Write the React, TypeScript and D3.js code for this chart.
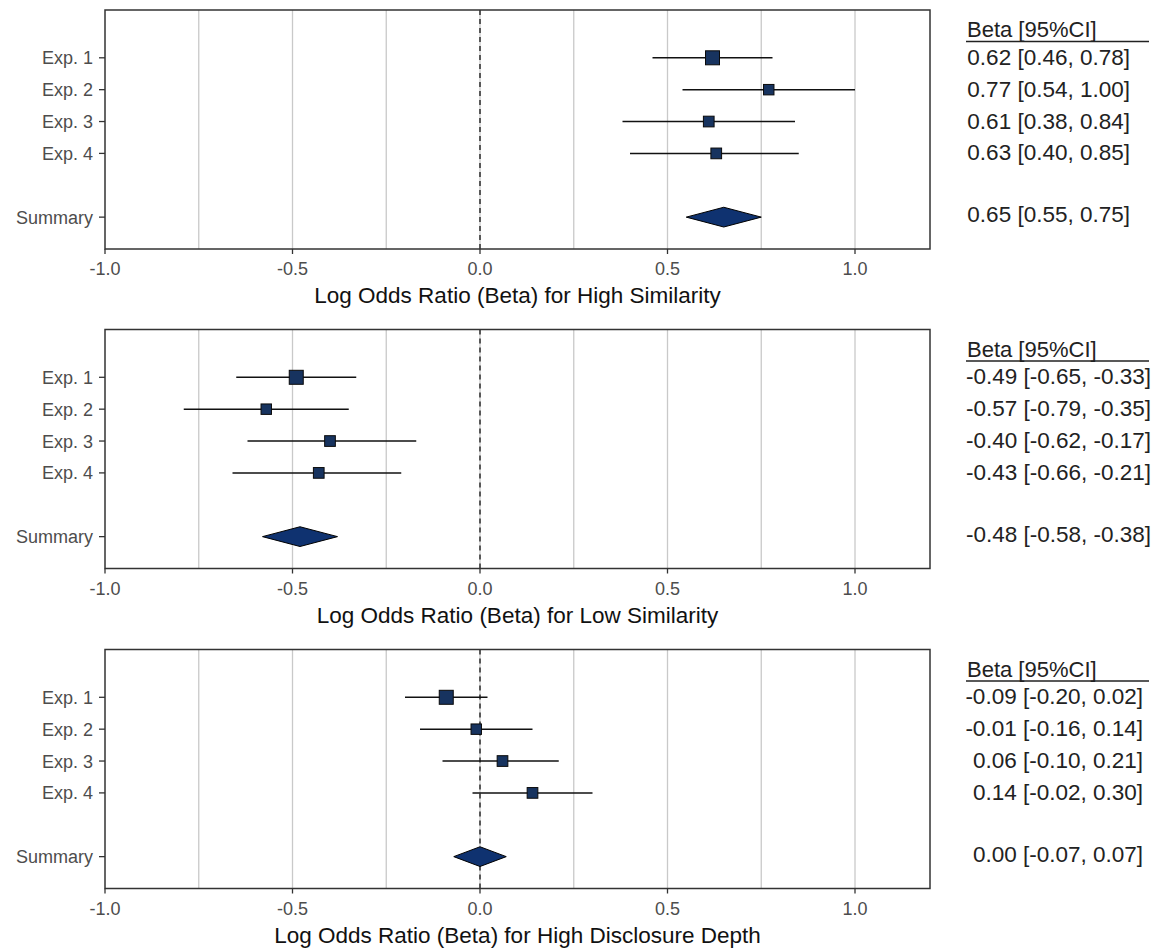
import React from "react";
import * as d3 from "d3";

const studies = ["Exp. 1", "Exp. 2", "Exp. 3", "Exp. 4"];
const summaryLabel = "Summary";
const rowPositions = [6, 5, 4, 3];
const summaryPosition = 1;
const xTickValues = [-1.0, -0.5, 0.0, 0.5, 1.0];
const gridValues = [-0.75, -0.5, -0.25, 0.0, 0.25, 0.5, 0.75, 1.0];
const headerText = "Beta [95%CI]";

const panelTitles = [
  "Log Odds Ratio (Beta) for High Similarity",
  "Log Odds Ratio (Beta) for Low Similarity",
  "Log Odds Ratio (Beta) for High Disclosure Depth",
];

const hsEst = [0.62, 0.77, 0.61, 0.63];
const hsLo = [0.46, 0.54, 0.38, 0.4];
const hsHi = [0.78, 1.0, 0.84, 0.85];
const hsSummary = [0.65, 0.55, 0.75];

const lsEst = [-0.49, -0.57, -0.4, -0.43];
const lsLo = [-0.65, -0.79, -0.62, -0.66];
const lsHi = [-0.33, -0.35, -0.17, -0.21];
const lsSummary = [-0.48, -0.58, -0.38];

const ddEst = [-0.09, -0.01, 0.06, 0.14];
const ddLo = [-0.2, -0.16, -0.1, -0.02];
const ddHi = [0.02, 0.14, 0.21, 0.3];
const ddSummary = [0.0, -0.07, 0.07];

const studyWeights = [0.36, 0.2, 0.21, 0.21];

const panels = [
  { title: panelTitles[0], est: hsEst, lo: hsLo, hi: hsHi, summary: hsSummary },
  { title: panelTitles[1], est: lsEst, lo: lsLo, hi: lsHi, summary: lsSummary },
  { title: panelTitles[2], est: ddEst, lo: ddLo, hi: ddHi, summary: ddSummary },
];

const W = 1159;
const H = 950;
const left = 105;
const right = 930;
const panelTops = [10, 329.5, 649.5];
const textRightEdges = [1130, 1151, 1143];
const panelH = 239;
const textX = 967;
const FONT = "'Liberation Sans', Arial, sans-serif";
const FILL = "#17335f";
const DFILL = "#0f3270";

const fmt = (v: number) => v.toFixed(2);

function Panel({ p, top, textRight }: { p: any; top: number; textRight: number }) {
  const bottom = top + panelH;
  const x = d3.scaleLinear().domain([-1, 1.2]).range([left, right]);
  const y = d3.scaleLinear().domain([0, 7.5]).range([bottom, top]);
  const size = d3.scaleSqrt().domain([0, 0.36]).range([0, 14]);
  const ys = y(summaryPosition);
  const dh = y(0) - y(0.31);
  const diamond = [
    [x(p.summary[1]), ys],
    [x(p.summary[0]), ys - dh],
    [x(p.summary[2]), ys],
    [x(p.summary[0]), ys + dh],
  ];
  const line = d3.line();
  return (
    <g>
      {gridValues.map((g) => (
        <line key={"g" + g} x1={x(g)} x2={x(g)} y1={top} y2={bottom} stroke="#c9c9c9" strokeWidth={1.3} />
      ))}
      <line x1={x(0)} x2={x(0)} y1={top} y2={bottom} stroke="#000" strokeWidth={1.2} strokeDasharray="5,4" />
      {studies.map((s, i) => {
        const yy = y(rowPositions[i]);
        const sz = size(studyWeights[i]);
        return (
          <g key={s}>
            <line x1={x(p.lo[i])} x2={x(p.hi[i])} y1={yy} y2={yy} stroke="#111" strokeWidth={1.5} />
            <rect x={x(p.est[i]) - sz / 2} y={yy - sz / 2} width={sz} height={sz} fill={FILL} stroke="#0a0a0a" strokeWidth={1} />
          </g>
        );
      })}
      <path d={line(diamond as any) + "Z"} fill={DFILL} stroke="#000" strokeWidth={1} />
      <rect x={left} y={top} width={right - left} height={panelH} fill="none" stroke="#333" strokeWidth={1.5} />
      {studies.map((s, i) => (
        <g key={"yl" + s}>
          <line x1={left - 6} x2={left} y1={y(rowPositions[i])} y2={y(rowPositions[i])} stroke="#333" strokeWidth={1.3} />
          <text x={left - 12} y={y(rowPositions[i]) + 6.5} textAnchor="end" fontSize={18} fill="#4d4d4d" fontFamily={FONT}>{s}</text>
        </g>
      ))}
      <line x1={left - 6} x2={left} y1={ys} y2={ys} stroke="#333" strokeWidth={1.3} />
      <text x={left - 12} y={ys + 6.5} textAnchor="end" fontSize={18} fill="#4d4d4d" fontFamily={FONT}>{summaryLabel}</text>
      {xTickValues.map((t) => (
        <g key={"xt" + t}>
          <line x1={x(t)} x2={x(t)} y1={bottom} y2={bottom + 5} stroke="#333" strokeWidth={1.3} />
          <text x={x(t)} y={bottom + 26} textAnchor="middle" fontSize={18} fill="#4d4d4d" fontFamily={FONT}>{t.toFixed(1)}</text>
        </g>
      ))}
      <text x={(left + right) / 2} y={bottom + 54} textAnchor="middle" fontSize={22.5} fill="#111" fontFamily={FONT}>{p.title}</text>
      <text x={textX} y={top + 27} fontSize={22} fill="#222" fontFamily={FONT}>{headerText}</text>
      <line x1={textX - 1} x2={1149} y1={top + 31.5} y2={top + 31.5} stroke="#222" strokeWidth={1.5} />
      {studies.map((s, i) => (
        <text key={"rt" + s} x={textRight} y={y(rowPositions[i]) + 7} textAnchor="end" fontSize={22.5} fill="#222" fontFamily={FONT}>
          {`${fmt(p.est[i])} [${fmt(p.lo[i])}, ${fmt(p.hi[i])}]`}
        </text>
      ))}
      <text x={textRight} y={ys + 5} textAnchor="end" fontSize={22.5} fill="#222" fontFamily={FONT}>
        {`${fmt(p.summary[0])} [${fmt(p.summary[1])}, ${fmt(p.summary[2])}]`}
      </text>
    </g>
  );
}

export default function App() {
  return (
    <svg width={W} height={H} style={{ position: "absolute", left: 0, top: 0, background: "#fff" }}>
      <rect x={0} y={0} width={W} height={H} fill="#fff" />
      {panels.map((p, i) => (
        <Panel key={i} p={p} top={panelTops[i]} textRight={textRightEdges[i]} />
      ))}
    </svg>
  );
}
